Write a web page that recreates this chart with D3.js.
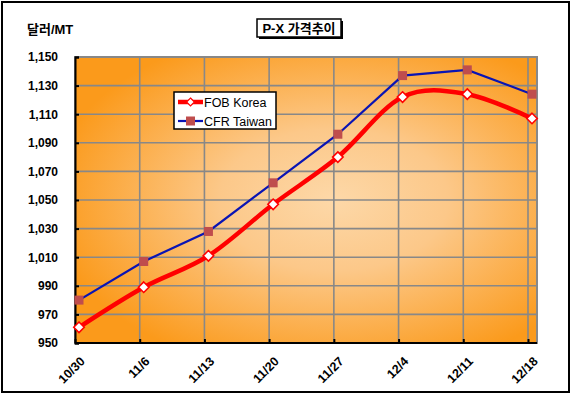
<!DOCTYPE html>
<html lang="ko">
<head>
  <meta charset="utf-8">
  <title>P-X 가격추이</title>
  <script src="https://d3js.org/d3.v7.min.js"></script>
  <style>
    body { margin: 0; background: #fff; }
    text { font-family: Arial, "Liberation Sans", "Noto Sans CJK KR", sans-serif; }
  </style>
</head>
<body>
  <div id="chart"></div>

  <script>
    var width = 572,
        height = 396;

    // data
    var dates = ["10/30", "11/6", "11/13", "11/20", "11/27", "12/4", "12/11", "12/18"];
    var fobKorea = [961, 989, 1011, 1047, 1080, 1122, 1124, 1107];
    var cfrTaiwan = [980, 1007, 1028, 1062, 1096, 1137, 1141, 1124];
    var yTicks = [950, 970, 990, 1010, 1030, 1050, 1070, 1090, 1110, 1130, 1150];

    var plot = {left: 75, right: 537, top: 57, bottom: 343};

    var svg = d3.select("#chart")
      .append("svg")
      .attr("width", width)
      .attr("height", height);

    var x = d3.scalePoint()
      .domain(dates)
      .range([plot.left, 528]);

    var y = d3.scaleLinear()
      .domain([950, 1150])
      .range([plot.bottom, plot.top]);

    var dx = 4; // excel puts markers a bit right of the gridlines

    // background gradient
    var defs = svg.append("defs");
    var grad = defs.append("radialGradient")
      .attr("id", "bg")
      .attr("cx", 0.56).attr("cy", 0.5).attr("r", 0.62);
    grad.append("stop").attr("offset", "0%").attr("stop-color", "#fdd8a8");
    grad.append("stop").attr("offset", "40%").attr("stop-color", "#fcc889");
    grad.append("stop").attr("offset", "100%").attr("stop-color", "#fb9a1b");

    // outer frame
    svg.append("rect")
      .attr("x", 2).attr("y", 2)
      .attr("width", 567).attr("height", 390)
      .attr("fill", "#fff")
      .attr("stroke", "#000")
      .attr("stroke-width", 2);

    svg.append("rect")
      .attr("x", plot.left).attr("y", plot.top)
      .attr("width", plot.right - plot.left)
      .attr("height", plot.bottom - plot.top)
      .attr("fill", "url(#bg)")
      .attr("stroke", "#888")
      .attr("stroke-width", 2);

    // gridlines
    svg.append("g")
      .selectAll("line")
      .data(yTicks.slice(1))
      .enter().append("line")
      .attr("x1", plot.left).attr("x2", plot.right)
      .attr("y1", d => y(d)).attr("y2", d => y(d))
      .attr("stroke", "#888")
      .attr("stroke-width", 1.6);

    svg.append("g")
      .selectAll("line")
      .data(dates.slice(1))
      .enter().append("line")
      .attr("x1", d => x(d)).attr("x2", d => x(d))
      .attr("y1", plot.top).attr("y2", plot.bottom)
      .attr("stroke", "#888")
      .attr("stroke-width", 1.6);

    // axes
    var yAxis = d3.axisLeft(y)
      .tickValues(yTicks)
      .tickSize(-4)
      .tickPadding(17)
      .tickFormat(d3.format(","));

    var gy = svg.append("g")
      .attr("transform", "translate(" + plot.left + ",0)")
      .call(yAxis);
    gy.select(".domain").attr("stroke", "#000").attr("stroke-width", 2);
    gy.selectAll(".tick line").attr("stroke", "#000").attr("stroke-width", 2);
    gy.selectAll(".tick text")
      .attr("font-size", 12)
      .attr("font-weight", "bold")
      .attr("fill", "#000");

    var xAxis = d3.axisBottom(x)
      .tickSize(-4)
      .tickSizeOuter(0)
      .tickFormat(d => d);

    var gx = svg.append("g")
      .attr("transform", "translate(0," + plot.bottom + ")")
      .call(xAxis);
    gx.select(".domain")
      .attr("d", "M" + plot.left + ",0H" + plot.right)
      .attr("stroke", "#000").attr("stroke-width", 2);
    gx.selectAll(".tick line").attr("stroke", "#000").attr("stroke-width", 2);
    gx.selectAll(".tick text")
      .attr("font-size", 12.5)
      .attr("font-weight", "bold")
      .attr("fill", "#000")
      .attr("text-anchor", "end")
      .attr("dy", 0)
      .attr("transform", "translate(8,17) rotate(-45)");

    // unit label
    svg.append("text")
      .attr("x", 27).attr("y", 34)
      .attr("font-size", 13)
      .attr("font-weight", "bold")
      .text("달러/MT");

    // title box
    var title = svg.append("g");
    title.append("rect")
      .attr("x", 259).attr("y", 21)
      .attr("width", 84).attr("height", 18)
      .attr("fill", "#000");
    title.append("rect")
      .attr("x", 257).attr("y", 19)
      .attr("width", 84).attr("height", 18)
      .attr("fill", "#fff")
      .attr("stroke", "#000")
      .attr("stroke-width", 1.5);
    title.append("text")
      .attr("x", 299).attr("y", 33)
      .attr("text-anchor", "middle")
      .attr("font-size", 13)
      .attr("font-weight", "bold")
      .text("P-X 가격추이");

    // series
    var cfrLine = d3.line()
      .x((d, i) => x(dates[i]) + dx)
      .y(d => y(d));

    var fobLine = d3.line()
      .x((d, i) => x(dates[i]) + dx)
      .y(d => y(d))
      .curve(d3.curveCardinal.tension(0));

    svg.append("path")
      .datum(cfrTaiwan)
      .attr("d", cfrLine)
      .attr("fill", "none")
      .attr("stroke", "#0a14b4")
      .attr("stroke-width", 2.2);

    svg.append("g")
      .selectAll("rect")
      .data(cfrTaiwan)
      .enter().append("rect")
      .attr("x", (d, i) => x(dates[i]) + dx - 4.5)
      .attr("y", d => y(d) - 4.5)
      .attr("width", 9).attr("height", 9)
      .attr("fill", "#bf4d4d");

    svg.append("path")
      .datum(fobKorea)
      .attr("d", fobLine)
      .attr("fill", "none")
      .attr("stroke", "#ff0000")
      .attr("stroke-width", 4.5);

    var diamond = d3.symbol().type(d3.symbolDiamond2).size(70);

    svg.append("g")
      .selectAll("path")
      .data(fobKorea)
      .enter().append("path")
      .attr("d", diamond)
      .attr("transform", (d, i) => "translate(" + (x(dates[i]) + dx) + "," + y(d) + ")")
      .attr("fill", "#fff")
      .attr("stroke", "#ff0000")
      .attr("stroke-width", 1.6);

    // legend
    var legend = svg.append("g");
    legend.append("rect")
      .attr("x", 174).attr("y", 92)
      .attr("width", 102).attr("height", 37)
      .attr("fill", "#fff")
      .attr("stroke", "#000")
      .attr("stroke-width", 1.5);

    var items = [
      {name: "FOB Korea", color: "#ff0000", w: 4.5, cy: 102},
      {name: "CFR Taiwan", color: "#0a14b4", w: 2.2, cy: 121}
    ];

    items.forEach(function(it, i) {
      legend.append("line")
        .attr("x1", 178).attr("x2", 203)
        .attr("y1", it.cy).attr("y2", it.cy)
        .attr("stroke", it.color)
        .attr("stroke-width", it.w);
      if (i === 0) {
        legend.append("path")
          .attr("d", d3.symbol().type(d3.symbolDiamond2).size(40))
          .attr("transform", "translate(190.5," + it.cy + ")")
          .attr("fill", "#fff")
          .attr("stroke", "#ff0000")
          .attr("stroke-width", 1.2);
      } else {
        legend.append("rect")
          .attr("x", 186).attr("y", it.cy - 4.5)
          .attr("width", 9).attr("height", 9)
          .attr("fill", "#bf4d4d");
      }
      legend.append("text")
        .attr("x", 204).attr("y", it.cy + 4.5)
        .attr("font-size", 12.5)
        .text(it.name);
    });
  </script>
</body>
</html>
